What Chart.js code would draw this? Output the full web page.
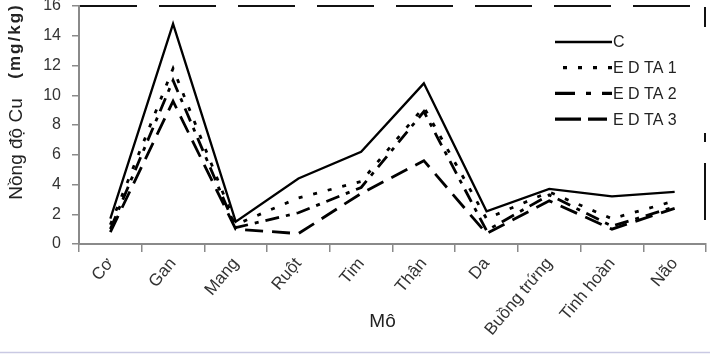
<!DOCTYPE html>
<html><head><meta charset="utf-8">
<script src="https://cdn.jsdelivr.net/npm/chart.js@4/dist/chart.umd.min.js"></script>
<style>html,body{margin:0;padding:0;background:#fff;}#wrap{width:710px;height:356px;position:relative;}</style>
</head><body><div id="wrap"><canvas id="c" width="710" height="356"></canvas></div>
<script>
const categories = ['Cơ','Gan','Mang','Ruột','Tim','Thận','Da','Buồng trứng','Tinh hoàn','Não'];
const seriesC     = [1.7, 14.8, 1.5, 4.4, 6.2, 10.8, 2.2, 3.7, 3.2, 3.5];
const seriesEDTA1 = [1.3, 11.8, 1.3, 3.1, 4.2, 9.2, 1.7, 3.5, 1.7, 2.9];
const seriesEDTA2 = [1.0, 11.0, 1.1, 2.1, 3.8, 8.9, 0.9, 3.3, 1.2, 2.5];
const seriesEDTA3 = [0.8, 9.6, 1.0, 0.7, 3.4, 5.6, 0.7, 2.9, 1.0, 2.4];
const seriesNames = ['C','E D TA 1','E D TA 2','E D TA 3'];
const yTicks = [0,2,4,6,8,10,12,14,16];
const xTitle = 'Mô';
const yTitleMain = 'Nồng độ Cu';
const yTitleUnit = '(mg/kg)';

const FONT = "'Liberation Sans', Arial, sans-serif";
const dashes = [[], [4,11], [14,7,4,7], [18,9]];
const widths = [2.3, 2.8, 2.8, 2.8];
const legendDash = [[], [4,11], [20,11,5,11], [26,7]];
const legendDashOffset = [0, 7, 0, 0];
const legendLen = [57, 57, 57, 52];
const allSeries = [seriesC, seriesEDTA1, seriesEDTA2, seriesEDTA3];

const deco = {
  id: 'deco',
  afterDraw(chart) {
    const ctx = chart.ctx, a = chart.chartArea, ys = chart.scales.y;
    ctx.save();
    const yTop = ys.getPixelForValue(yTicks[yTicks.length-1]);
    ctx.strokeStyle = '#111'; ctx.lineWidth = 2;
    ctx.setLineDash([57,22]);
    ctx.beginPath(); ctx.moveTo(a.left+1, yTop); ctx.lineTo(a.right, yTop); ctx.stroke();
    ctx.setLineDash([20,106,9,21,57,400]);
    ctx.beginPath(); ctx.moveTo(a.right-1, yTop+1); ctx.lineTo(a.right-1, a.bottom); ctx.stroke();
    ctx.setLineDash([]);
    const lx = a.right - 151, ly0 = a.top + 36, step = 25.7;
    chart.data.datasets.forEach((ds, i) => {
      const y = ly0 + i*step;
      ctx.strokeStyle = '#000'; ctx.lineWidth = ds.borderWidth + 0.4;
      ctx.setLineDash(legendDash[i]); ctx.lineDashOffset = legendDashOffset[i];
      ctx.beginPath(); ctx.moveTo(lx, y); ctx.lineTo(lx+legendLen[i], y); ctx.stroke();
      ctx.setLineDash([]); ctx.lineDashOffset = 0;
      ctx.fillStyle = '#222'; ctx.font = '16px ' + FONT;
      ctx.textBaseline = 'middle'; ctx.textAlign = 'left';
      ctx.fillText(ds.label, lx+58, y+1);
    });
    ctx.fillStyle = '#222'; ctx.font = '19px ' + FONT;
    ctx.textAlign = 'center'; ctx.textBaseline = 'middle';
    ctx.fillText(xTitle, (a.left + a.right)/2 - 10, 322);
    ctx.save();
    ctx.translate(17, 0); ctx.rotate(-Math.PI/2);
    ctx.font = '19px ' + FONT; ctx.textAlign = 'center';
    ctx.fillText(yTitleMain, -149, 0);
    ctx.font = 'bold 17px ' + FONT;
    try { ctx.letterSpacing = '2px'; } catch (e) {}
    ctx.fillText(yTitleUnit, -41, -2);
    try { ctx.letterSpacing = '0px'; } catch (e) {}
    ctx.restore();
    ctx.strokeStyle = '#c9c9e3'; ctx.lineWidth = 1.5;
    ctx.beginPath(); ctx.moveTo(0, 352.5); ctx.lineTo(710, 352.5); ctx.stroke();
    ctx.restore();
  }
};

new Chart(document.getElementById('c'), {
  type: 'line',
  data: {
    labels: categories,
    datasets: allSeries.map((s, i) => ({
      label: seriesNames[i], data: s,
      borderColor: '#000', borderWidth: widths[i], borderDash: dashes[i],
      pointRadius: 0, tension: 0, fill: false
    }))
  },
  options: {
    responsive: false, animation: false,
    layout: { padding: { left: 0, right: 4, top: 6, bottom: 0 } },
    plugins: { legend: { display: false }, tooltip: { enabled: false } },
    scales: {
      x: {
        type: 'category', offset: true,
        grid: { display: true, drawOnChartArea: false, offset: true, tickLength: 8, color: '#8a8a8a', lineWidth: 1.5 },
        border: { display: true, color: '#8a8a8a', width: 2 },
        ticks: { font: { family: FONT, size: 17 }, color: '#333', minRotation: 50, maxRotation: 50, padding: 2, autoSkip: false },
        afterFit(s) { s.height = 112; }
      },
      y: {
        min: 0, max: 16,
        afterBuildTicks(s) { s.ticks = yTicks.map(v => ({ value: v })); },
        grid: { display: true, drawOnChartArea: false, tickLength: 7, color: '#8a8a8a', lineWidth: 1.5 },
        border: { display: true, color: '#8a8a8a', width: 2 },
        ticks: { font: { family: FONT, size: 16 }, color: '#333', padding: 11 },
        afterFit(s) { s.width = 79; s.paddingTop = 0; s.paddingBottom = 0; }
      }
    }
  },
  plugins: [deco]
});
</script></body></html>
